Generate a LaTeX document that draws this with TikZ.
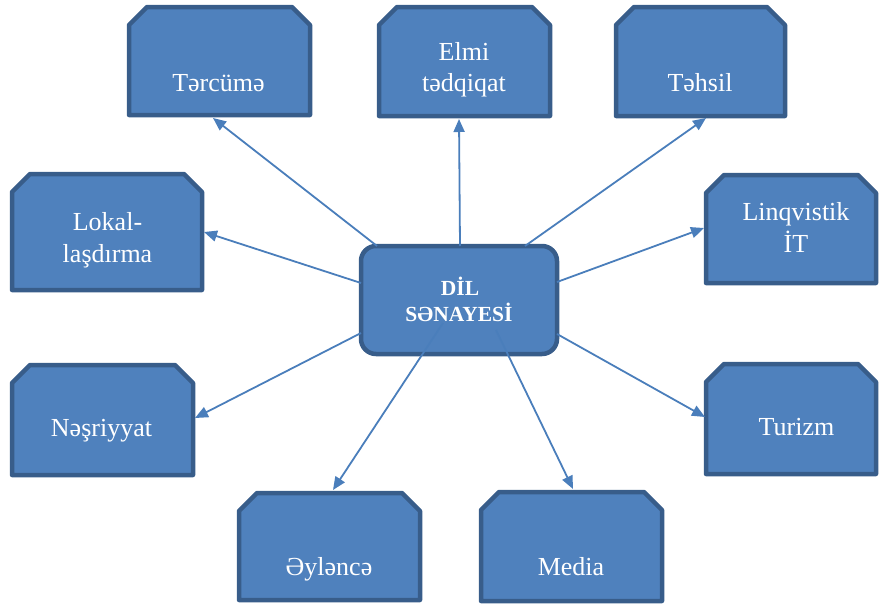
\documentclass[tikz,border=0pt]{standalone}
\usepackage{fontspec}
\setmainfont{Liberation Serif}
\usetikzlibrary{calc,arrows.meta}
\definecolor{boxfill}{HTML}{4F81BD}
\definecolor{boxedge}{HTML}{385D8A}
\definecolor{arrcol}{HTML}{4A7EBB}
\tikzset{
  boxnode/.style={rectangle, inner sep=0pt, outer sep=0pt},
  boxline/.style={fill=boxfill, draw=boxedge, line width=4.5pt, line join=round},
  ctrbox/.style={rectangle, rounded corners=15pt, fill=boxfill, draw=boxedge, line width=4.5pt, outer sep=0pt, inner sep=0pt, minimum width=196pt, minimum height=108pt},
  lbl/.style={anchor=base, inner sep=0pt, text=white, font=\fontsize{26}{31}\selectfont},
  clbl/.style={anchor=base, inner sep=0pt, text=white, font=\fontsize{21.5}{26}\selectfont\bfseries},
  arr/.style={draw=arrcol, line width=1.8pt, -{Triangle[length=13pt,width=11pt]}, shorten >=0pt}
}
\newcommand\snipbox[5]{%
  \node[boxnode, minimum width=#4pt, minimum height=#5pt] (#1) at (#2,#3) {};
  \draw[boxline] ($(#1.north west)+(0,18)$) -- ($(#1.north west)+(18,0)$) -- ($(#1.north east)+(-18,0)$) -- ($(#1.north east)+(0,18)$) -- (#1.south east) -- (#1.south west) -- cycle;
}
\begin{document}
\begin{tikzpicture}[x=1pt,y=-1pt]
\useasboundingbox (0,0) rectangle (880,608);
% boxes
\snipbox{T}{219.5}{61}{181}{108}
\snipbox{E}{464.5}{61.5}{171}{109}
\snipbox{H}{700.5}{61.5}{169}{109}
\snipbox{L}{107}{232}{190}{116}
\snipbox{Q}{791}{229}{170}{108}
\snipbox{N}{102.5}{420}{181}{110}
\snipbox{Z}{791}{419}{170}{110}
\snipbox{A}{329.5}{546.5}{181}{107}
\snipbox{M}{571.5}{546.5}{181}{109}
% centre
\node[ctrbox] (c) at (459,300) {};
% labels
\node[lbl] (tT) at (218.5,91) {Tərcümə};
\node[lbl] (tE1) at (464,60) {Elmi};
\node[lbl] (tE2) at (464,91) {tədqiqat};
\node[lbl] (tH) at (700,91) {Təhsil};
\node[lbl] (tL1) at (107.5,230) {Lokal-};
\node[lbl] (tL2) at (107.5,262) {laşdırma};
\node[lbl] (tQ1) at (796,220) {Linqvistik};
\node[lbl] (tQ2) at (796,252) {İT};
\node[lbl] (tN) at (101.5,436) {Nəşriyyat};
\node[lbl] (tZ) at (796.5,435) {Turizm};
\node[lbl] (tA) at (329,575) {Əyləncə};
\node[lbl] (tM) at (571,575) {Media};
\node[clbl] (tc1) at (460,295) {DİL};
\node[clbl] (tc2) at (459,321) {SƏNAYESİ};
% connectors
\draw[arr] ($(c.north west)+(16,0)$) -- ($(T.south)+(-6.5,3)$);
\draw[arr] ($(c.north)+(1,0)$) -- ($(E.south)+(-5.5,3)$);
\draw[arr] ($(c.north east)+(-32,0)$) -- ($(H.south)+(5.5,2)$);
\draw[arr] ($(c.west)+(0,-17)$) -- ($(L.east)+(2,0)$);
\draw[arr] ($(c.east)+(0,-18)$) -- ($(Q.west)+(-2,-1)$);
\draw[arr] ($(c.west)+(0,33)$) -- ($(N.east)+(2,-2)$);
\draw[arr] ($(c.east)+(0,34)$) -- ($(Z.west)+(-1,-2)$);
\draw[arr] ($(c.center)+(-16,23)$) -- ($(A.north)+(3.5,-3)$);
\draw[arr] ($(c.center)+(37,30)$) -- ($(M.north)+(1.5,-3)$);
\end{tikzpicture}
\end{document}
